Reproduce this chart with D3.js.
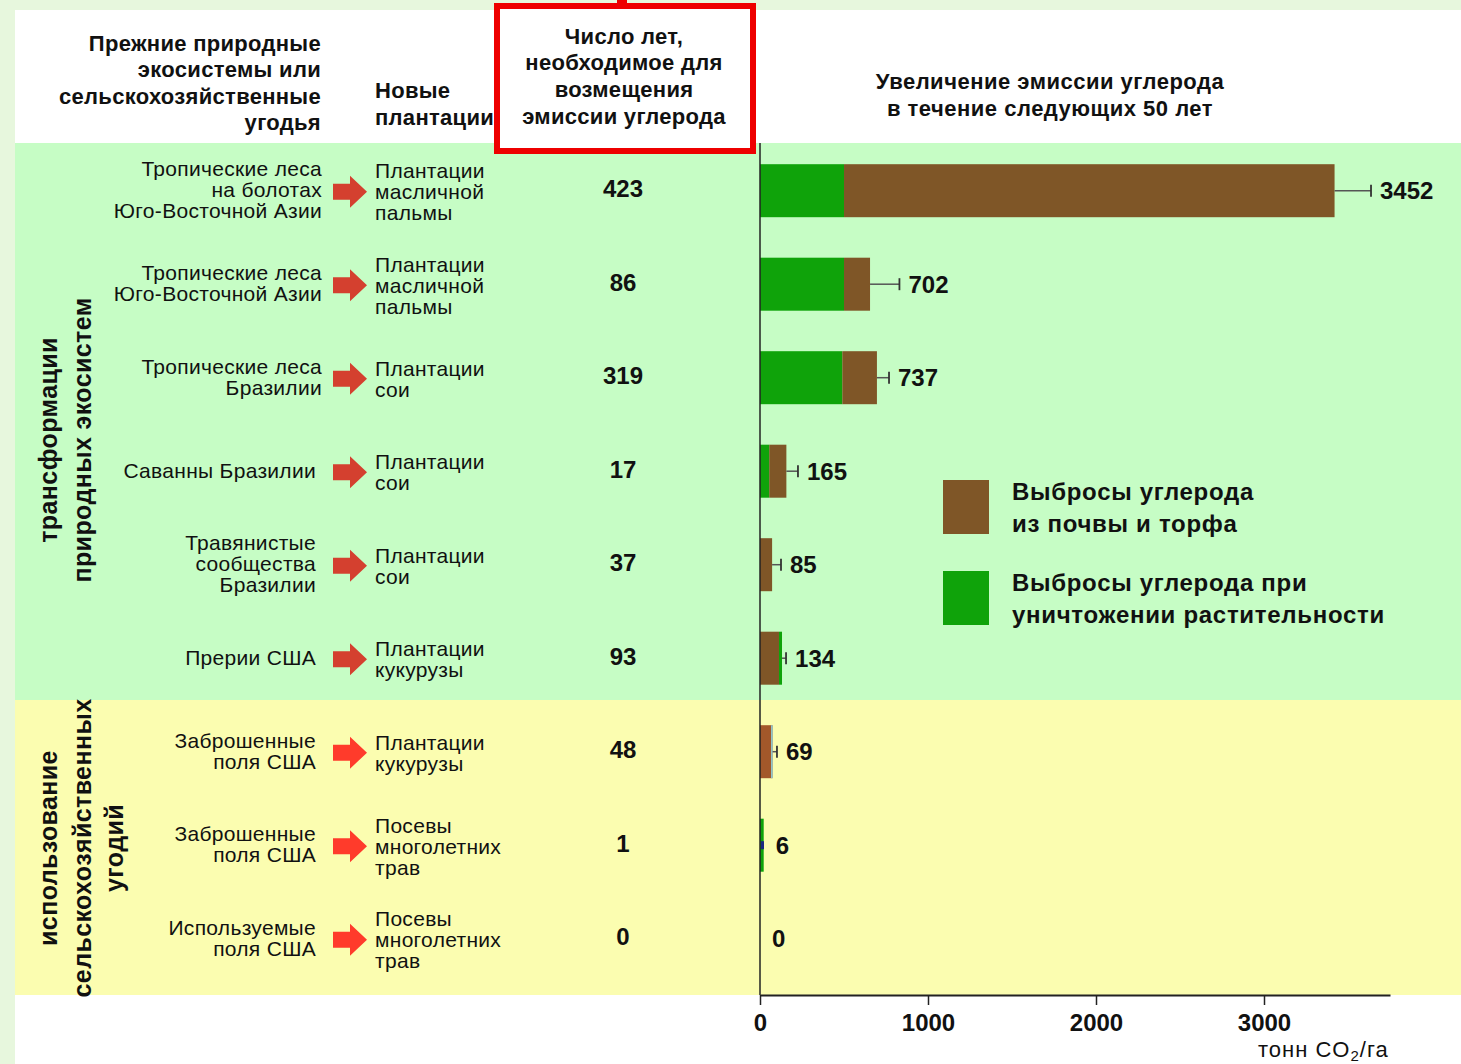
<!DOCTYPE html>
<html>
<head>
<meta charset="utf-8">
<script src="https://cdn.jsdelivr.net/npm/d3@7"></script>
<style>
  html, body { margin: 0; padding: 0; background: #ffffff; }
  svg { display: block; }
  text { font-family: "Liberation Sans", Arial, Helvetica, sans-serif; fill: #111; }
</style>
</head>
<body>
<svg id="chart" width="1461" height="1064"></svg>
<script>
// ---------------- DATA ----------------
const fromLabels = [
  ["Тропические леса", "на болотах", "Юго-Восточной Азии"],
  ["Тропические леса", "Юго-Восточной Азии"],
  ["Тропические леса", "Бразилии"],
  ["Саванны Бразилии"],
  ["Травянистые", "сообщества", "Бразилии"],
  ["Прерии США"],
  ["Заброшенные", "поля США"],
  ["Заброшенные", "поля США"],
  ["Используемые", "поля США"]
];
const toLabels = [
  ["Плантации", "масличной", "пальмы"],
  ["Плантации", "масличной", "пальмы"],
  ["Плантации", "сои"],
  ["Плантации", "сои"],
  ["Плантации", "сои"],
  ["Плантации", "кукурузы"],
  ["Плантации", "кукурузы"],
  ["Посевы", "многолетних", "трав"],
  ["Посевы", "многолетних", "трав"]
];
const rowGroup = ["nat", "nat", "nat", "nat", "nat", "nat", "agr", "agr", "agr"];
const paybackYears = [423, 86, 319, 17, 37, 93, 48, 1, 0];
const vegetationEmission = [500, 500, 490, 55, 0, 18, 0, 22, 0];
const soilEmission = [2920, 155, 206, 102, 72, 113, 75, 0, 0];
const soilFirst = [false, false, false, false, false, true, true, false, false];
const errorUpper = [3637, 830, 768, 226, 125, 155, 101, null, null];
const totalLabels = [3452, 702, 737, 165, 85, 134, 69, 6, 0];
const tickValues = [0, 1000, 2000, 3000];
const axisMax = 3750;
const groupLabels = {
  nat: ["трансформации", "природных экосистем"],
  agr: ["использование", "сельскохозяйственных", "угодий"]
};
const headerFrom = ["Прежние природные", "экосистемы или", "сельскохозяйственные", "угодья"];
const headerTo = ["Новые", "плантации"];
const headerYears = ["Число лет,", "необходимое для", "возмещения", "эмиссии углерода"];
const headerEmission = ["Увеличение эмиссии углерода", "в течение следующих 50 лет"];
const legendItems = [
  { key: "soil", lines: ["Выбросы углерода", "из почвы и торфа"] },
  { key: "veg", lines: ["Выбросы углерода при", "уничтожении растительности"] }
];
const unitLabel = ["тонн CO", "2", "/га"];

// ---------------- STYLE ----------------
const C = {
  page: "#e7f7dd", white: "#ffffff", greenBg: "#c6fdc5", yellowBg: "#fbfdb0",
  soil: "#7f5627", soilAgr: "#a3582a", veg: "#0fa30a",
  arrowNat: "#d4402f", arrowAgr: "#ff3b2b", red: "#ee0000"
};
const FONT = '"Liberation Sans", Arial, Helvetica, sans-serif';

const svg = d3.select("#chart");

// Backgrounds
svg.append("rect").attr("x", 0).attr("y", 0).attr("width", 1461).attr("height", 1064).attr("fill", C.page);
svg.append("rect").attr("x", 15).attr("y", 10).attr("width", 1446).attr("height", 1054).attr("fill", C.white);
svg.append("rect").attr("x", 15).attr("y", 143).attr("width", 1446).attr("height", 557).attr("fill", C.greenBg);
svg.append("rect").attr("x", 15).attr("y", 700).attr("width", 1446).attr("height", 295).attr("fill", C.yellowBg);

// Scales
const idx = d3.range(fromLabels.length);
const x = d3.scaleLinear().domain([0, axisMax]).range([760, 1390]);
const y = d3.scalePoint().domain(idx).range([190.7, 938.7]);
const barH = 53;

// Headers
function lines(g, arr, xPos, y0, dy, anchor, size, weight, ls) {
  arr.forEach((t, i) => {
    g.append("text").attr("x", xPos).attr("y", y0 + i * dy)
      .attr("text-anchor", anchor).attr("dominant-baseline", "central")
      .attr("font-size", size).attr("font-weight", weight)
      .attr("letter-spacing", ls || 0).text(t);
  });
}
const head = svg.append("g");
lines(head, headerFrom, 321, 43, 26.6, "end", 22, "bold", 0.3);
lines(head, headerTo, 375, 90, 27, "start", 22, "bold", 0.3);
lines(head, headerEmission, 1050, 81, 27, "middle", 22, "bold", 0.5);

// Red highlight box
svg.append("rect").attr("x", 497).attr("y", 6).attr("width", 256).attr("height", 145)
  .attr("fill", C.white).attr("stroke", C.red).attr("stroke-width", 6);
svg.append("rect").attr("x", 617).attr("y", 0).attr("width", 10).attr("height", 4).attr("fill", C.red);
const boxText = svg.append("g");
lines(boxText, headerYears, 624, 36, 26.7, "middle", 22, "bold", 0.3);

// Group labels (vertical)
const groupCenters = { nat: 440, agr: 848 };
const groupXs = { nat: [48, 82], agr: [48, 82, 114] };
Object.keys(groupLabels).forEach(k => {
  groupLabels[k].forEach((t, i) => {
    svg.append("text")
      .attr("transform", `translate(${groupXs[k][i]},${groupCenters[k]}) rotate(-90)`)
      .attr("text-anchor", "middle").attr("dominant-baseline", "central")
      .attr("font-size", 25).attr("font-weight", "bold").attr("letter-spacing", 0.4).text(t);
  });
});

// Row labels
const rows = svg.append("g");
idx.forEach(i => {
  const cy = y(i);
  const fl = fromLabels[i];
  const rightEdge = i < 3 ? 322 : 316;
  fl.forEach((t, j) => {
    rows.append("text").attr("x", rightEdge).attr("y", cy - 1 + (j - (fl.length - 1) / 2) * 21)
      .attr("text-anchor", "end").attr("dominant-baseline", "central")
      .attr("font-size", 21).attr("letter-spacing", 0.3).text(t);
  });
  const tl = toLabels[i];
  tl.forEach((t, j) => {
    rows.append("text").attr("x", 375).attr("y", cy + 1 + (j - (tl.length - 1) / 2) * 21)
      .attr("text-anchor", "start").attr("dominant-baseline", "central")
      .attr("font-size", 21).attr("letter-spacing", 0.3).text(t);
  });
  // arrow
  const ax = 333, ay = cy + 1;
  const pts = [[ax, ay - 8], [ax + 17, ay - 8], [ax + 17, ay - 16], [ax + 34, ay],
               [ax + 17, ay + 16], [ax + 17, ay + 8], [ax, ay + 8]];
  rows.append("polygon").attr("points", pts.map(p => p.join(",")).join(" "))
    .attr("fill", rowGroup[i] === "nat" ? C.arrowNat : C.arrowAgr);
  // payback years
  rows.append("text").attr("x", 623).attr("y", cy - 2)
    .attr("text-anchor", "middle").attr("dominant-baseline", "central")
    .attr("font-size", 24).attr("font-weight", "bold").text(paybackYears[i]);
});

// Bars
const bars = svg.append("g");
idx.forEach(i => {
  const cy = y(i);
  const segs = soilFirst[i]
    ? [["soil", soilEmission[i]], ["veg", vegetationEmission[i]]]
    : [["veg", vegetationEmission[i]], ["soil", soilEmission[i]]];
  let acc = 0;
  segs.forEach(([k, v]) => {
    if (v > 0) {
      const fill = k === "veg" ? C.veg : (rowGroup[i] === "agr" ? C.soilAgr : C.soil);
      bars.append("rect").attr("x", x(acc)).attr("y", cy - barH / 2)
        .attr("width", x(acc + v) - x(acc)).attr("height", barH).attr("fill", fill);
    }
    acc += v;
  });
  if (i === 6) {
    bars.append("rect").attr("x", x(acc) - 1.5).attr("y", cy - barH / 2).attr("width", 1.5)
      .attr("height", barH).attr("fill", "#8fd3dc");
  }
  if (i === 7) {
    bars.append("rect").attr("x", x(0) + 1).attr("y", cy - 4).attr("width", 3).attr("height", 8).attr("fill", "#1a2a80");
  }
  let labelX = x(acc) + 12;
  if (errorUpper[i] != null) {
    const ex = x(errorUpper[i]);
    bars.append("line").attr("x1", x(acc)).attr("x2", ex).attr("y1", cy).attr("y2", cy)
      .attr("stroke", "#555").attr("stroke-width", 1.5);
    bars.append("line").attr("x1", ex).attr("x2", ex).attr("y1", cy - 6).attr("y2", cy + 6)
      .attr("stroke", "#333").attr("stroke-width", 1.8);
    labelX = ex + 9;
  }
  bars.append("text").attr("x", labelX).attr("y", cy)
    .attr("text-anchor", "start").attr("dominant-baseline", "central")
    .attr("font-size", 24).attr("font-weight", "bold").text(totalLabels[i]);
});

// Vertical baseline
svg.append("line").attr("x1", x(0)).attr("x2", x(0)).attr("y1", 143).attr("y2", 995)
  .attr("stroke", "#222").attr("stroke-width", 1.5);

// X axis
const axisG = svg.append("g").attr("transform", "translate(0,995)")
  .call(d3.axisBottom(x).tickValues(tickValues).tickSize(10).tickSizeOuter(0).tickPadding(9).tickFormat(d3.format("d")));
axisG.select(".domain").attr("stroke", "#222").attr("stroke-width", 2);
axisG.selectAll(".tick line").attr("stroke", "#222").attr("stroke-width", 1.5);
axisG.selectAll(".tick text").attr("font-family", FONT).attr("font-size", 24)
  .attr("font-weight", "bold").attr("fill", "#111");

// Unit label
const unit = svg.append("text").attr("x", 1258).attr("y", 1057).attr("font-size", 22).attr("letter-spacing", 1);
unit.append("tspan").text(unitLabel[0]);
unit.append("tspan").attr("font-size", 15).attr("dy", 4).text(unitLabel[1]);
unit.append("tspan").attr("dy", -4).text(unitLabel[2]);

// Legend
const leg = svg.append("g");
const legY = [480, 571];
legendItems.forEach((it, i) => {
  leg.append("rect").attr("x", 943).attr("y", legY[i]).attr("width", 46).attr("height", 54)
    .attr("fill", it.key === "soil" ? C.soil : C.veg);
  it.lines.forEach((t, j) => {
    leg.append("text").attr("x", 1012).attr("y", legY[i] + 11 + j * 32.5)
      .attr("dominant-baseline", "central").attr("font-size", 24).attr("font-weight", "bold")
      .attr("letter-spacing", 0.7).text(t);
  });
});
</script>
</body>
</html>
